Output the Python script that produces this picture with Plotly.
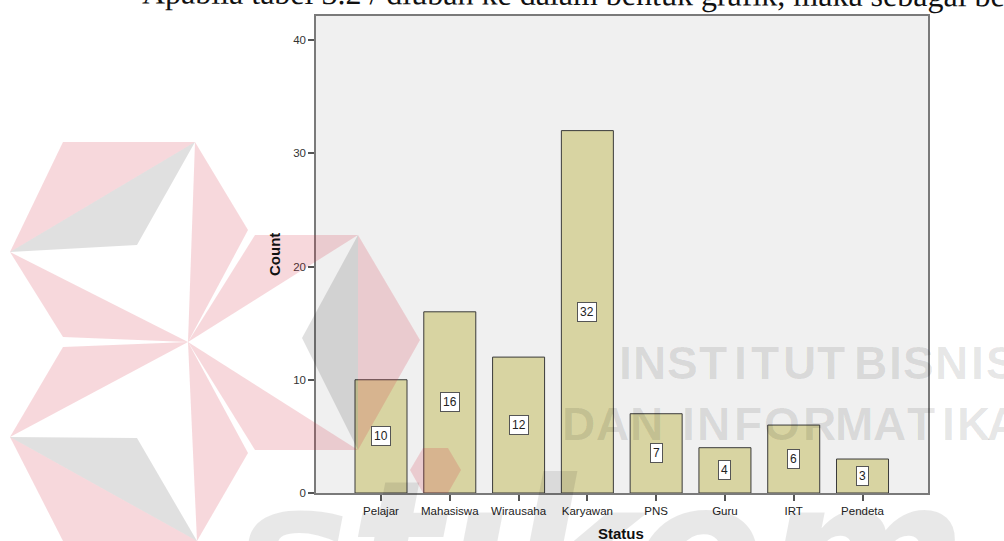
import plotly.graph_objects as go

# ---- data ----
categories = ["Pelajar", "Mahasiswa", "Wirausaha", "Karyawan", "PNS", "Guru", "IRT", "Pendeta"]
counts = [10, 16, 12, 32, 7, 4, 6, 3]
y_ticks = [0, 10, 20, 30, 40]
x_title = "Status"
y_title = "Count"
page_text = "Apabila tabel 3.2 / diubah ke dalam bentuk grafik, maka sebagai berikut"
wm_line1 = "INSTITUT BISNIS"
wm_line2 = "DAN INFORMATIKA"
wm_word = "st\u0131kom"

W, H = 1004, 541
ML, MR, MT, MB = 316, 76, 16, 48
PW = W - ML - MR
PH = H - MT - MB


def px(x):
    return (x - ML) / PW


def py(y):
    return (H - MB - y) / PH


def poly(pts):
    return "M " + " L ".join(f"{px(x):.5f},{py(y):.5f}" for x, y in pts) + " Z"


fig = go.Figure()
fig.add_trace(go.Bar(
    x=categories, y=counts, width=0.756,
    marker=dict(color="#d8d4a2", line=dict(color="#3a3a3a", width=1)),
    hoverinfo="skip",
))

annotations = []
# value labels in white boxes at mid-height of bars
for c, v in zip(categories, counts):
    annotations.append(dict(
        x=c, y=v / 2, xref="x", yref="y", text=str(v), showarrow=False,
        xanchor="center", yanchor="middle",
        font=dict(family="Liberation Sans", size=12, color="#222"),
        bgcolor="white", bordercolor="#555", borderwidth=1, borderpad=2,
    ))


def pann(x, y, text, **kw):
    d = dict(x=px(x), y=py(y), xref="paper", yref="paper", text=text, showarrow=False,
             xanchor="center", yanchor="middle")
    d.update(kw)
    annotations.append(d)


# axis titles
pann(621, 533, f"<b>{x_title}</b>", font=dict(family="Liberation Sans", size=15, color="#111"))
pann(275, 255, f"<b>{y_title}</b>", textangle=-90,
     font=dict(family="Liberation Sans", size=15, color="#111"))

# page text at top (cut off by the page edge)
pann(140, -6, page_text, xanchor="left", textangle=0.2,
     font=dict(family="Liberation Serif", size=32, color="#111"))

# watermark text
wm_color = "rgba(0,0,0,0.1)"
line1_x = [625, 649.5, 682, 713, 740, 765, 799, 831, None, 870, 895, 918, 951, 977, 1001]
for ch, x in zip(wm_line1, line1_x):
    if x is None or ch == " ":
        continue
    pann(x, 363, f"<b>{ch}</b>", font=dict(family="Liberation Sans", size=46, color=wm_color))
line2_x = [578, 612, 646, None, 688, 713, 748, 782, 819, 854, 889, 921, 948, 973, 1003]
for ch, x in zip(wm_line2, line2_x):
    if x is None or ch == " ":
        continue
    pann(x, 424, f"<b>{ch}</b>", font=dict(family="Liberation Sans", size=46, color=wm_color))

pann(600, 437, f"<b><i>{wm_word}</i></b>", yanchor="top",
     font=dict(family="DejaVu Sans", size=194, color="rgba(0,0,0,0.09)"))

# logo shapes
pink = "rgba(210,40,60,0.18)"
gray = "rgba(0,0,0,0.12)"
A, B, Cc, D, E, F, G = (10, 252), (63, 142), (195, 142), (248, 230), (188, 342), (63, 337), (137, 245)
A2, B2, C2, D2, F2, G2 = (10, 437), (63, 541), (197, 541), (248, 453), (63, 347), (137, 438)
Hh, T, R, Bm, L, G3 = (255, 235), (358, 235), (420, 340), (358, 450), (255, 450), (302, 338)
shapes = []
for pts, col in [
    ([A, B, Cc], pink), ([Cc, D, E], pink), ([A, E, F], pink), ([A, Cc, G], gray),
    ([A2, B2, C2], pink), ([C2, D2, E], pink), ([A2, E, F2], pink), ([A2, C2, G2], gray),
    ([E, Hh, T], pink), ([E, L, Bm], pink), ([T, R, Bm], pink), ([T, G3, Bm], gray),
    ([(423, 448), (448, 448), (461, 470), (448, 493), (423, 493), (410, 470)], pink),
]:
    shapes.append(dict(type="path", xref="paper", yref="paper", path=poly(pts),
                       fillcolor=col, line=dict(width=0), layer="above"))

fig.update_layout(
    width=W, height=H,
    margin=dict(l=ML, r=MR, t=MT, b=MB, pad=0, autoexpand=False),
    paper_bgcolor="white", plot_bgcolor="#f0f0f0",
    showlegend=False,
    annotations=annotations,
    shapes=shapes,
    xaxis=dict(
        type="category", range=[-0.945, 7.952],
        showgrid=False, zeroline=False,
        showline=True, linecolor="#7a7a7a", linewidth=1.5, mirror=True,
        ticks="outside", ticklen=6, tickwidth=1.5, tickcolor="#555",
        tickfont=dict(family="Liberation Sans", size=11.5, color="#222"),
    ),
    yaxis=dict(
        range=[0, 42.12], tickvals=y_ticks,
        showgrid=False, zeroline=False,
        showline=True, linecolor="#7a7a7a", linewidth=1.5, mirror=True,
        ticks="outside", ticklen=6, tickwidth=1.5, tickcolor="#555",
        tickfont=dict(family="Liberation Sans", size=11.5, color="#333"),
    ),
)

fig.write_html("out.html")
